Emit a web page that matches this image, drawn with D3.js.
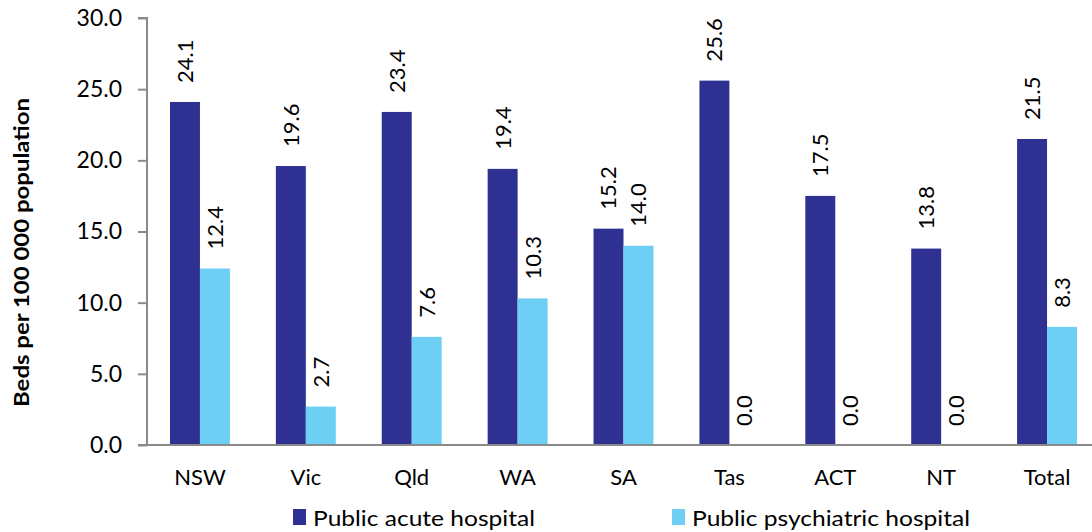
<!DOCTYPE html>
<html>
<head>
<meta charset="utf-8">
<script src="https://cdn.jsdelivr.net/npm/d3@7"></script>
<style>
  html, body { margin: 0; padding: 0; background: #fff; }
  svg { display: block; font-family: Lato, "Open Sans", sans-serif; }
</style>
</head>
<body>
<svg id="chart" width="1092" height="532"></svg>
<script>
// Jurisdictions shown along the x axis
const categories = ["NSW", "Vic", "Qld", "WA", "SA", "Tas", "ACT", "NT", "Total"];
// Beds per 100 000 population
const acuteValues = [24.1, 19.6, 23.4, 19.4, 15.2, 25.6, 17.5, 13.8, 21.5];
const psychiatricValues = [12.4, 2.7, 7.6, 10.3, 14.0, 0.0, 0.0, 0.0, 8.3];
const seriesNames = ["Public acute hospital", "Public psychiatric hospital"];
const seriesColors = ["#2E3192", "#6DCFF4"];
const yTicks = [0, 5, 10, 15, 20, 25, 30];

const svg = d3.select("#chart");
const plotLeft = 147, plotRight = 1100, plotTop = 18, plotBottom = 445;

const x = d3.scaleBand().domain(categories).range([plotLeft, plotRight]).paddingInner(0.434).paddingOuter(0.217);
const sub = d3.scaleBand().domain([0, 1]).range([0, x.bandwidth()]);
const y = d3.scaleLinear().domain([0, 30]).range([plotBottom, plotTop]);

const axisColor = "#8A8A8A";

// Bars
const series = [acuteValues, psychiatricValues];
series.forEach((vals, si) => {
  svg.append("g").selectAll("rect").data(categories).join("rect")
    .attr("x", d => x(d) + sub(si))
    .attr("y", (d, i) => y(vals[i]))
    .attr("width", sub.bandwidth())
    .attr("height", (d, i) => y(0) - y(vals[i]))
    .attr("fill", seriesColors[si]);
});

// Value labels, rotated, above each bar
series.forEach((vals, si) => {
  svg.append("g").selectAll("text").data(categories).join("text")
    .attr("transform", (d, i) => {
      const cx = x(d) + sub(si) + sub.bandwidth() / 2;
      const cy = y(vals[i]) - 19;
      return `translate(${cx},${cy}) rotate(-90)`;
    })
    .attr("dy", "0.36em")
    .attr("text-anchor", "start")
    .attr("font-size", 22)
    .attr("fill", "#000")
    .text((d, i) => vals[i].toFixed(1));
});

// Y axis
const yAxis = svg.append("g")
  .attr("transform", `translate(${plotLeft},0)`)
  .call(d3.axisLeft(y).tickValues(yTicks).tickFormat(d3.format(".1f")).tickSize(9).tickPadding(16));
yAxis.select(".domain").attr("stroke", axisColor).attr("stroke-width", 2).attr("d", `M-9,${plotTop}H0V${plotBottom}H-9`);
yAxis.selectAll(".tick line").attr("stroke", axisColor).attr("stroke-width", 2);
yAxis.selectAll(".tick text").attr("font-size", 23).attr("fill", "#000").attr("font-family", "Lato, sans-serif");

// X axis
const xAxis = svg.append("g")
  .attr("transform", `translate(0,${plotBottom})`)
  .call(d3.axisBottom(x).tickSize(0).tickPadding(24));
xAxis.select(".domain").attr("stroke", axisColor).attr("stroke-width", 2).attr("d", `M${plotLeft - 9},0H${plotRight}`);
xAxis.selectAll(".tick text").attr("font-size", 22).attr("fill", "#000").attr("font-family", "Lato, sans-serif");

// Y axis title
svg.append("text")
  .attr("transform", `translate(21,${(plotTop + plotBottom) / 2 + 21}) rotate(-90)`)
  .attr("text-anchor", "middle")
  .attr("dy", "0.36em")
  .attr("font-size", 21)
  .attr("font-weight", "bold")
  .attr("textLength", 309)
  .attr("lengthAdjust", "spacingAndGlyphs")
  .text("Beds per 100 000 population");

// Legend
const legendItems = [
  { name: seriesNames[0], color: seriesColors[0], sx: 293, tx: 313, len: 222 },
  { name: seriesNames[1], color: seriesColors[1], sx: 672, tx: 692, len: 278 }
];
const legend = svg.append("g");
legendItems.forEach(it => {
  legend.append("rect").attr("x", it.sx).attr("y", 509).attr("width", 13).attr("height", 16).attr("fill", it.color);
  legend.append("text").attr("x", it.tx).attr("y", 518).attr("dy", "0.36em")
    .attr("font-size", 22).attr("fill", "#000")
    .attr("textLength", it.len).attr("lengthAdjust", "spacingAndGlyphs")
    .text(it.name);
});
</script>
</body>
</html>
